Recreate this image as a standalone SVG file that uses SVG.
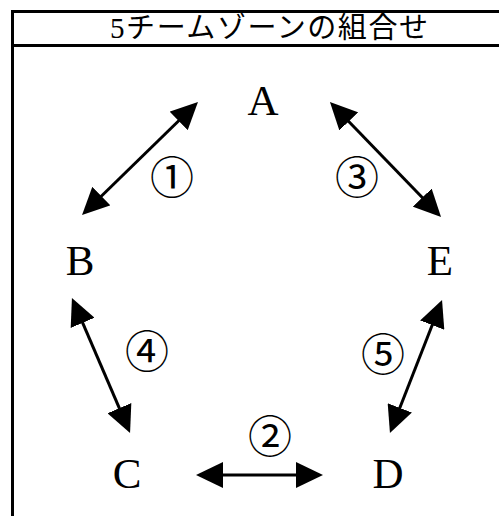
<svg xmlns="http://www.w3.org/2000/svg" width="499" height="516" viewBox="0 0 499 516">
<style>
.frame{stroke:#000;stroke-width:3;fill:none}
.title{font-family:"Liberation Serif","Noto Sans CJK JP",serif;font-size:29px;fill:#000;text-anchor:middle}
.lbl{font-family:"Liberation Serif","Times New Roman",serif;font-size:43px;fill:#000;text-anchor:middle}
.num{font-family:"Noto Sans CJK JP","DejaVu Sans",sans-serif;font-size:44px;fill:#000;text-anchor:middle}
.edge{stroke:#000;stroke-width:3;fill:none;marker-start:url(#ah);marker-end:url(#ah)}
</style>
<defs>
<marker id="ah" markerUnits="userSpaceOnUse" markerWidth="27" markerHeight="26" refX="17" refY="13" orient="auto-start-reverse" viewBox="0 0 27 26">
<path d="M0,0 L27,13 L0,26 Z" fill="#000"/>
</marker>
</defs>
<rect width="499" height="516" fill="#fff"/>
<g id="frame">
<path class="frame" d="M12.5,10 V516 M11,11.5 H499 M11,45.5 H499"/>
<text class="title" x="269" y="38" textLength="318" lengthAdjust="spacing">5チームゾーンの組合せ</text>
</g>
<g id="connectors">
<line class="edge" x1="89.2" y1="208" x2="190.8" y2="109"/>
<line class="edge" x1="336.9" y1="109.2" x2="434.1" y2="209.8"/>
<line class="edge" x1="75.9" y1="307.2" x2="126.1" y2="423.8"/>
<line class="edge" x1="438.4" y1="309.3" x2="393.6" y2="423.7"/>
<line class="edge" x1="206" y1="475" x2="313" y2="475"/>
<text class="num" x="172" y="194">①</text>
<text class="num" x="357" y="194">③</text>
<text class="num" x="147" y="368">④</text>
<text class="num" x="383" y="371">⑤</text>
<text class="num" x="270" y="453">②</text>
</g>
<g id="node-A"><text class="lbl" x="263" y="115">A</text></g>
<g id="node-B"><text class="lbl" x="80" y="275">B</text></g>
<g id="node-E"><text class="lbl" x="440" y="275">E</text></g>
<g id="node-C"><text class="lbl" x="127" y="488">C</text></g>
<g id="node-D"><text class="lbl" x="388" y="488">D</text></g>
</svg>
